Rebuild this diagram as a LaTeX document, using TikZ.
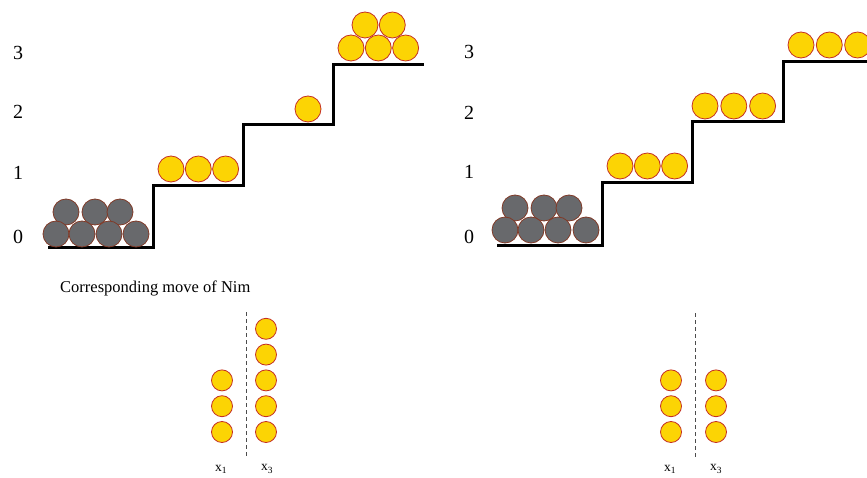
\documentclass[tikz,border=0pt]{standalone}
\usepackage{fontspec}
\setmainfont{Liberation Serif}
\usetikzlibrary{positioning}

\definecolor{coinfill}{RGB}{252,212,4}
\definecolor{coinedge}{RGB}{196,48,36}
\definecolor{stonefill}{RGB}{104,105,108}
\definecolor{stoneedge}{RGB}{128,58,40}

\tikzset{
  coin/.style={circle, draw=coinedge, fill=coinfill, line width=0.8pt, minimum size=26pt, inner sep=0pt},
  stone/.style={circle, draw=stoneedge, fill=stonefill, line width=0.8pt, minimum size=26pt, inner sep=0pt},
  heapcoin/.style={coin, minimum size=21pt},
  stair/.style={line width=3pt, line join=miter},
  lvl/.style={inner sep=0pt, font=\fontsize{20}{20}\selectfont},
  pile/.style={inner sep=0pt, font=\fontsize{13.5}{13.5}\selectfont},
  split/.style={dashed, dash pattern=on 4pt off 3pt, line width=0.9pt, draw=black!70}
}

\begin{document}
\begin{tikzpicture}[x=1pt, y=-1pt, node distance=0.5pt]
    \useasboundingbox (0,0) rectangle (867,478);

    % left staircase
    \draw[stair] (48,248) -| (153,186) -| (243,125) -| (333,65) -- (424,65);
    \node[lvl] (l0) at (18,237) {0};
    \node[lvl] (l1) at (18,173) {1};
    \node[lvl] (l2) at (18,112) {2};
    \node[lvl] (l3) at (18,53) {3};

    \node[stone] (la1) at (66,212) {};
    \node[stone] (la2) at (95,212) {};
    \node[stone] (la3) at (120,212) {};
    \node[stone] (lb1) at (56,234) {};
    \node[stone] (lb2) at (82,234) {};
    \node[stone] (lb3) at (109,234) {};
    \node[stone] (lb4) at (136,234) {};

    \node[coin] (lc1) at (171,169) {};
    \node[coin, right=of lc1] (lc2) {};
    \node[coin, right=of lc2] (lc3) {};

    \node[coin] (ld1) at (308,109) {};

    \node[coin] (le1) at (365,25) {};
    \node[coin, right=of le1] (le2) {};
    \node[coin] (lf1) at (351,48) {};
    \node[coin, right=of lf1] (lf2) {};
    \node[coin, right=of lf2] (lf3) {};

    % right staircase
    \draw[stair] (497,246) -| (602,183) -| (692,122) -| (783,62) -- (870,62);
    \node[lvl] (r0) at (469,237) {0};
    \node[lvl] (r1) at (469,172) {1};
    \node[lvl] (r2) at (469,113) {2};
    \node[lvl] (r3) at (469,52) {3};

    \node[stone] (ra1) at (515,208) {};
    \node[stone] (ra2) at (544,208) {};
    \node[stone] (ra3) at (569,208) {};
    \node[stone] (rb1) at (505,230) {};
    \node[stone] (rb2) at (531,230) {};
    \node[stone] (rb3) at (558,230) {};
    \node[stone] (rb4) at (586,230) {};

    \node[coin] (rc1) at (620,166) {};
    \node[coin, right=of rc1] (rc2) {};
    \node[coin, right=of rc2] (rc3) {};

    \node[coin] (rd1) at (705,106) {};
    \node[coin, right=2pt of rd1] (rd2) {};
    \node[coin, right=2pt of rd2] (rd3) {};

    \node[coin] (re1) at (801,45) {};
    \node[coin, right=1.5pt of re1] (re2) {};
    \node[coin, right=1.5pt of re2] (re3) {};

    % nim heaps, left
    \node[anchor=west, inner sep=0pt, font=\fontsize{16.5}{16.5}\selectfont] (title) at (60,288) {Corresponding move of Nim};
    \coordinate (ltop) at (246,312);
    \coordinate (lbot) at (246,457);
    \draw[split] (ltop) -- (lbot);

    \node[heapcoin] (lp1) at (222,432) {};
    \node[heapcoin, above=4pt of lp1] (lp2) {};
    \node[heapcoin, above=4pt of lp2] (lp3) {};
    \node[heapcoin] (lq1) at (266,432) {};
    \node[heapcoin, above=4pt of lq1] (lq2) {};
    \node[heapcoin, above=4pt of lq2] (lq3) {};
    \node[heapcoin, above=4pt of lq3] (lq4) {};
    \node[heapcoin, above=4pt of lq4] (lq5) {};
    \node[pile] (lx1) at (221,469) {x\textsubscript{1}};
    \node[pile] (lx3) at (267,469) {x\textsubscript{3}};

    % nim heaps, right
    \coordinate (rtop) at (695,313);
    \coordinate (rbot) at (695,457);
    \draw[split] (rtop) -- (rbot);

    \node[heapcoin] (rp1) at (671,432) {};
    \node[heapcoin, above=4pt of rp1] (rp2) {};
    \node[heapcoin, above=4pt of rp2] (rp3) {};
    \node[heapcoin] (rq1) at (716,432) {};
    \node[heapcoin, above=4pt of rq1] (rq2) {};
    \node[heapcoin, above=4pt of rq2] (rq3) {};
    \node[pile] (rx1) at (670,469) {x\textsubscript{1}};
    \node[pile] (rx3) at (716,469) {x\textsubscript{3}};
\end{tikzpicture}
\end{document}
